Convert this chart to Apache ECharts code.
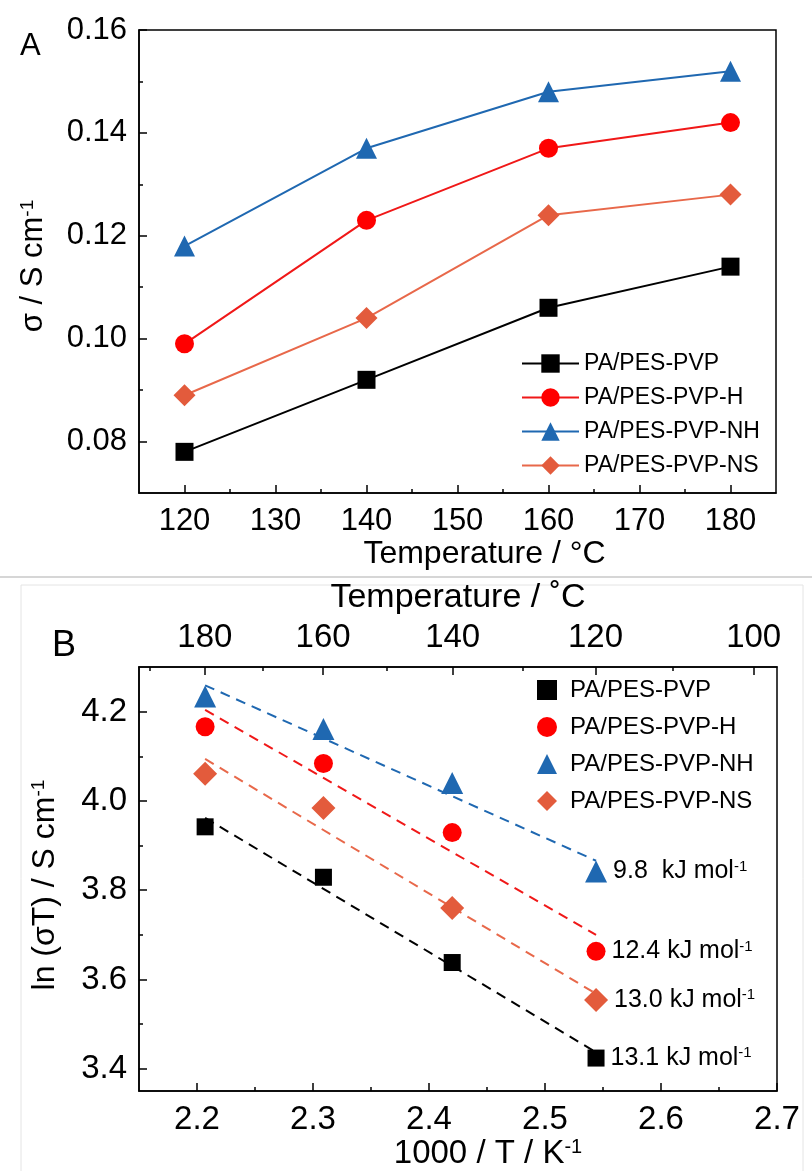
<!DOCTYPE html>
<html><head><meta charset="utf-8">
<script src="https://cdn.jsdelivr.net/npm/echarts@6/dist/echarts.min.js"></script>
<style>html,body{margin:0;padding:0;background:#fff}#c{width:812px;height:1171px}</style>
</head><body><div id="c"></div>
<script>
// ---------- data ----------
const seriesNames = ['PA/PES-PVP', 'PA/PES-PVP-H', 'PA/PES-PVP-NH', 'PA/PES-PVP-NS'];
// Panel A: conductivity vs temperature
const tempA = [120, 140, 160, 180];
const sigmaPVP = [0.078, 0.092, 0.106, 0.114];
const sigmaH   = [0.099, 0.123, 0.137, 0.142];
const sigmaNH  = [0.118, 0.137, 0.148, 0.152];
const sigmaNS  = [0.089, 0.104, 0.124, 0.128];
// Panel B: Arrhenius plot
const invT   = [2.207, 2.309, 2.420, 2.544];
const lnPVP  = [3.942, 3.829, 3.638, 3.424];
const lnH    = [4.166, 4.084, 3.929, 3.663];
const lnNH   = [4.234, 4.161, 4.040, 3.842];
const lnNS   = [4.061, 3.984, 3.760, 3.554];
// fitted lines (start / end values)
const fitX   = [2.207, 2.544];
const fitPVP = [3.962, 3.437];
const fitH   = [4.204, 3.700];
const fitNH  = [4.259, 3.866];
const fitNS  = [4.094, 3.568];
const activation = ['13.1', '12.4', '9.8 ', '13.0'];
// tick labels
const ticksA_x = [120, 130, 140, 150, 160, 170, 180];
const minorA_x = [125, 135, 145, 155, 165, 175];
const ticksA_y = [0.08, 0.10, 0.12, 0.14, 0.16];
const minorA_y = [0.09, 0.11, 0.13, 0.15];
const ticksB_x = [2.2, 2.3, 2.4, 2.5, 2.6, 2.7];
const minorB_x = [2.25, 2.35, 2.45, 2.55, 2.65];
const ticksB_y = [3.4, 3.6, 3.8, 4.0, 4.2];
const minorB_y = [3.5, 3.7, 3.9, 4.1];
const topTemps = [180, 160, 140, 120, 100];
const topMinorTemps = [190, 170, 150, 130, 110];

// ---------- style ----------
const FONT = 'Liberation Sans, Arial, sans-serif';
const colors = ['#000000', '#ff0000', '#1f68b1', '#e35b3c'];
const lineColors = ['#000000', '#f01818', '#1f68b1', '#e8684a'];
const symbols = ['rect', 'circle', 'triangle', 'diamond'];
const symSizeA = [18, 19, 21, 22];
const symSizeB = [17, 19, 22, 24];
const toInv = t => 1000 / (t + 273.15);

const sigmaSets = [sigmaPVP, sigmaH, sigmaNH, sigmaNS];
const lnSets = [lnPVP, lnH, lnNH, lnNS];
const fitSets = [fitPVP, fitH, fitNH, fitNS];

const axisLineStyle = { show: true, lineStyle: { color: '#000', width: 1.5 } };
function mainAxis(extra) {
  return Object.assign({
    type: 'value', splitLine: { show: false }, axisLine: axisLineStyle,
  }, extra);
}
function tick(values) {
  return { show: true, inside: true, length: 8, customValues: values, lineStyle: { color: '#000', width: 1.5 } };
}
function minorAxis(extra, values) {
  return Object.assign({
    type: 'value', splitLine: { show: false }, axisLine: { show: false },
    axisLabel: { show: false },
    axisTick: { show: true, inside: true, length: 4, customValues: values, lineStyle: { color: '#000', width: 1.5 } },
  }, extra);
}
const labelStyle = (size, margin, fmt, values) => ({
  show: true, color: '#000', fontSize: size, fontFamily: FONT, margin: margin,
  customValues: values, formatter: fmt
});
const nameRich = (size, supSize) => ({
  t: { fontSize: size, fontFamily: FONT, color: '#000' },
  s: { fontSize: supSize || Math.round(size * 0.6), fontFamily: FONT, color: '#000', verticalAlign: 'top' }
});

const xAxis = [
  mainAxis({ gridIndex: 0, position: 'bottom', min: 115, max: 185,
    axisTick: tick(ticksA_x),
    axisLabel: labelStyle(31, 13, v => String(Math.round(v)), ticksA_x),
    name: '{t|Temperature / °C}', nameLocation: 'middle', nameGap: 41,
    nameTextStyle: { rich: nameRich(32), padding: [0, 0, 0, 54] } }),
  minorAxis({ gridIndex: 0, position: 'bottom', min: 115, max: 185 }, minorA_x),
  mainAxis({ gridIndex: 1, position: 'bottom', min: 2.15, max: 2.7,
    axisTick: tick(ticksB_x),
    axisLabel: labelStyle(33, 12, v => v.toFixed(1), ticksB_x),
    name: '{t|1000 / T / K}{s|-1}', nameLocation: 'middle', nameGap: 44,
    nameTextStyle: { rich: nameRich(33), padding: [0, 0, 0, 60] } }),
  minorAxis({ gridIndex: 1, position: 'bottom', min: 2.15, max: 2.7 }, minorB_x),
  mainAxis({ gridIndex: 1, position: 'top', min: 2.15, max: 2.7,
    axisTick: tick(topTemps.map(toInv)),
    axisLabel: labelStyle(33, 13, v => String(Math.round(1000 / v - 273.15)), topTemps.map(toInv)),
    name: '{t|Temperature / ˚C}', nameLocation: 'middle', nameGap: 52,
    nameTextStyle: { rich: nameRich(34) } }),
  minorAxis({ gridIndex: 1, position: 'top', min: 2.15, max: 2.7 }, topMinorTemps.map(toInv)),
];
const yAxis = [
  mainAxis({ gridIndex: 0, position: 'left', min: 0.07, max: 0.16,
    axisTick: tick(ticksA_y),
    axisLabel: labelStyle(31, 12, v => v.toFixed(2), ticksA_y),
    name: '{t|σ / S cm}{s|-1}', nameLocation: 'middle', nameGap: 90, nameRotate: 90,
    nameTextStyle: { rich: nameRich(31), padding: [0, 9, 0, 0] } }),
  minorAxis({ gridIndex: 0, position: 'left', min: 0.07, max: 0.16 }, minorA_y),
  mainAxis({ gridIndex: 1, position: 'left', min: 3.35, max: 4.3,
    axisTick: tick(ticksB_y),
    axisLabel: labelStyle(33, 12, v => v.toFixed(1), ticksB_y),
    name: '{t|ln (σT) / S cm}{s|-1}', nameLocation: 'middle', nameGap: 78, nameRotate: 90,
    nameTextStyle: { rich: nameRich(32), padding: [0, 12, 0, 0] } }),
  minorAxis({ gridIndex: 1, position: 'left', min: 3.35, max: 4.3 }, minorB_y),
];

const series = [];
seriesNames.forEach((n, k) => {
  series.push({
    name: n, type: 'line', xAxisIndex: 0, yAxisIndex: 0,
    data: tempA.map((t, i) => [t, sigmaSets[k][i]]),
    symbol: symbols[k], symbolSize: symSizeA[k],
    itemStyle: { color: colors[k] },
    lineStyle: { color: lineColors[k], width: 2 },
    z: 3
  });
});
seriesNames.forEach((n, k) => {
  series.push({
    name: 'fit ' + n, type: 'line', xAxisIndex: 2, yAxisIndex: 2,
    data: fitX.map((x, i) => [x, fitSets[k][i]]),
    symbol: 'none', lineStyle: { color: lineColors[k], width: 2, type: [10, 7] },
    silent: true, z: 2
  });
});
seriesNames.forEach((n, k) => {
  series.push({
    name: n + ' (B)', type: 'scatter', xAxisIndex: 2, yAxisIndex: 2,
    symbol: symbols[k], symbolSize: symSizeB[k],
    itemStyle: { color: colors[k], opacity: 1 },
    data: invT.map((x, i) => i === invT.length - 1 ? {
      value: [x, lnSets[k][i]],
      label: {
        show: true, position: 'right', distance: 6,
        formatter: '{t|' + activation[k] + ' kJ mol}{s|-1}',
        rich: nameRich(25, 15)
      }
    } : [x, lnSets[k][i]]),
    z: 4
  });
});

const option = {
  animation: false,
  backgroundColor: '#fff',
  grid: [
    { left: 139, top: 30, width: 637, height: 463, show: true, borderColor: '#000', borderWidth: 1.5, backgroundColor: 'transparent' },
    { left: 139, top: 667, width: 638, height: 434, show: true, borderColor: '#000', borderWidth: 1.5, backgroundColor: 'transparent' }
  ],
  xAxis, yAxis, series,
  legend: [
    { data: seriesNames, orient: 'vertical', left: 516, top: 347, itemWidth: 57, itemHeight: 23, itemGap: 11,
      textStyle: { fontSize: 23, fontFamily: FONT, color: '#000' }, selectedMode: false },
    { data: seriesNames.map(n => n + ' (B)'), orient: 'vertical', left: 532, top: 673, itemWidth: 20, itemHeight: 20, itemGap: 13,
      formatter: n => n.replace(' (B)', ''),
      textStyle: { fontSize: 24, fontFamily: FONT, color: '#000', padding: [0, 0, 0, 8] }, selectedMode: false }
  ],
  graphic: [
    { type: 'line', shape: { x1: 0, y1: 577, x2: 812, y2: 577 }, style: { stroke: '#c8c8c8', lineWidth: 1.5 } },
    { type: 'rect', shape: { x: 21, y: 585, width: 782, height: 600 }, style: { fill: 'none', stroke: '#e4e4e4', lineWidth: 1 } },
    { type: 'text', left: 20, top: 31, style: { text: 'A', fontSize: 31, fontFamily: FONT, fill: '#000' } },
    { type: 'text', left: 52, top: 628, style: { text: 'B', fontSize: 36, fontFamily: FONT, fill: '#000' } }
  ]
};
const chart = echarts.init(document.getElementById('c'), null, { renderer: 'canvas' });
chart.setOption(option);
</script></body></html>
